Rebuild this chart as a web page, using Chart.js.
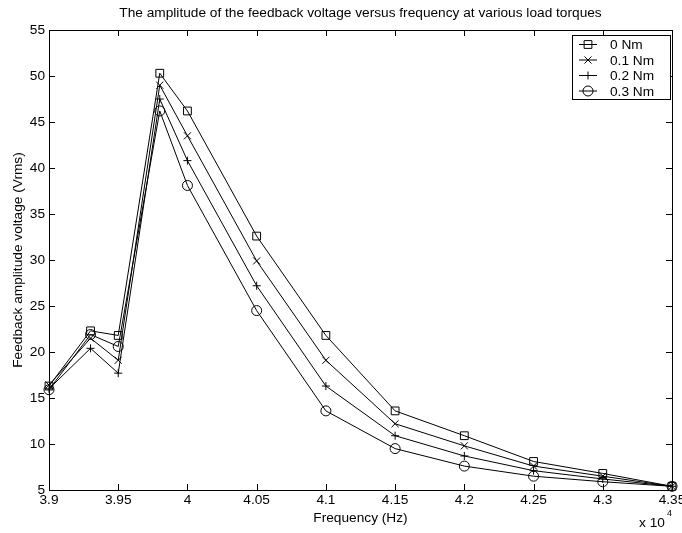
<!DOCTYPE html>
<html>
<head>
<meta charset="utf-8">
<script src="https://cdn.jsdelivr.net/npm/chart.js@4"></script>
<style>
  html, body { margin: 0; padding: 0; background: #fff; }
  #wrap { width: 682px; height: 533px; }
</style>
</head>
<body>
<div id="wrap"><canvas id="myChart"></canvas></div>
<script>
// frequencies in Hz
const freqs = [39000, 39300, 39500, 39800, 40000, 40500, 41000, 41500, 42000, 42500, 43000, 43500];
const labels0 = "0 Nm";
const labels1 = "0.1 Nm";
const labels2 = "0.2 Nm";
const labels3 = "0.3 Nm";
const volts0 = [16.3, 22.3, 21.8, 50.3, 46.2, 32.6, 21.8, 13.6, 10.9, 8.1, 6.8, 5.4];
const volts1 = [16.4, 21.5, 19.1, 49.0, 43.5, 29.9, 19.1, 12.2, 9.8, 7.6, 6.5, 5.4];
const volts2 = [16.0, 20.4, 17.7, 47.5, 40.8, 27.2, 16.3, 10.9, 8.7, 7.1, 6.2, 5.4];
const volts3 = [15.9, 21.9, 20.6, 46.2, 38.1, 24.5, 13.6, 9.5, 7.6, 6.5, 5.9, 5.4];
const xTicks = [39000, 39500, 40000, 40500, 41000, 41500, 42000, 42500, 43000, 43500];
const yTicks = [5, 10, 15, 20, 25, 30, 35, 40, 45, 50, 55];

const font = "Liberation Sans, Arial, sans-serif";
const fsize = 13.7;

function makeSet(label, values, style, radius) {
  return {
    label: label,
    data: values.map((v, i) => ({ x: freqs[i], y: v })),
    borderColor: "#000",
    borderWidth: 1,
    pointStyle: style,
    pointRadius: radius,
    pointBorderColor: "#000",
    pointBackgroundColor: "rgba(0,0,0,0)",
    pointBorderWidth: 1,
    tension: 0,
    clip: false,
  };
}

// inward ticks, frame, titles, legend, exponent
const decor = {
  id: "decor",
  afterDraw(chart) {
    const ctx = chart.ctx;
    const a = chart.chartArea;
    const xs = chart.scales.x;
    const ys = chart.scales.y;
    ctx.save();
    ctx.strokeStyle = "#000";
    ctx.lineWidth = 1;
    ctx.beginPath();
    xTicks.forEach((t) => {
      const px = Math.round(xs.getPixelForValue(t)) + 0.5;
      ctx.moveTo(px, a.bottom); ctx.lineTo(px, a.bottom - 6);
      ctx.moveTo(px, a.top); ctx.lineTo(px, a.top + 6);
    });
    yTicks.forEach((t) => {
      const py = Math.round(ys.getPixelForValue(t)) + 0.5;
      ctx.moveTo(a.left, py); ctx.lineTo(a.left + 6, py);
      ctx.moveTo(a.right, py); ctx.lineTo(a.right - 6, py);
    });
    ctx.stroke();
    ctx.strokeRect(Math.round(a.left) + 0.5, Math.round(a.top) + 0.5, Math.round(a.right - a.left), Math.round(a.bottom - a.top));

    ctx.fillStyle = "#000";
    ctx.font = fsize + "px " + font;
    ctx.textAlign = "center";
    ctx.textBaseline = "middle";
    ctx.fillText("The amplitude of the feedback voltage versus frequency at various load torques", (a.left + a.right) / 2, 13);
    ctx.fillText("Frequency (Hz)", (a.left + a.right) / 2, 518);

    ctx.save();
    ctx.translate(18, (a.top + a.bottom) / 2);
    ctx.rotate(-Math.PI / 2);
    ctx.fillText("Feedback amplitude voltage (Vrms)", 0, 0);
    ctx.restore();

    // exponent label
    ctx.textAlign = "left";
    ctx.fillText("x 10", 639, 523);
    ctx.font = "9px " + font;
    ctx.fillText("4", 667, 514);

    // legend box
    const bx = 572, by = 35, bw = 98, bh = 64;
    ctx.fillStyle = "#fff";
    ctx.fillRect(bx, by, bw, bh);
    ctx.strokeRect(bx + 0.5, by + 0.5, bw, bh);
    ctx.font = fsize + "px " + font;
    chart.data.datasets.forEach((ds, i) => {
      const ly = by + 9 + i * 15.5 + 0.5;
      ctx.beginPath();
      ctx.moveTo(bx + 7, ly); ctx.lineTo(bx + 25, ly);
      ctx.stroke();
      ctx.fillStyle = "rgba(0,0,0,0)";
      Chart.helpers.drawPoint(ctx, { pointStyle: ds.pointStyle, radius: ds.pointRadius, borderWidth: 1 }, bx + 16, ly);
      ctx.fillStyle = "#000";
      ctx.textAlign = "left";
      ctx.fillText(ds.label, bx + 38, ly + 1);
    });
    ctx.restore();
  },
};

const config = {
  type: "line",
  data: {
    datasets: [
      makeSet(labels0, volts0, "rect", 5.5),
      makeSet(labels1, volts1, "crossRot", 5),
      makeSet(labels2, volts2, "cross", 4),
      makeSet(labels3, volts3, "circle", 5),
    ],
  },
  options: {
    responsive: true,
    maintainAspectRatio: false,
    animation: false,
    layout: { padding: { top: 30, right: 0, left: 0, bottom: 0 } },
    plugins: { legend: { display: false }, title: { display: false }, tooltip: { enabled: false } },
    scales: {
      x: {
        type: "linear",
        min: 39000,
        max: 43500,
        afterFit: (s) => { s.height = 43; s.paddingLeft = 0; s.paddingRight = 10; },
        afterBuildTicks: (s) => { s.ticks = xTicks.map((v) => ({ value: v })); },
        grid: { display: false, drawTicks: false },
        border: { display: false },
        ticks: {
          color: "#000",
          padding: 2,
          maxRotation: 0,
          font: { family: font, size: fsize },
          callback: (v) => String(Math.round(v / 10) / 1000),
        },
      },
      y: {
        min: 5,
        max: 55,
        afterFit: (s) => { s.width = 49; s.paddingTop = 0; s.paddingBottom = 0; },
        afterBuildTicks: (s) => { s.ticks = yTicks.map((v) => ({ value: v })); },
        grid: { display: false, drawTicks: false },
        border: { display: false },
        ticks: { color: "#000", padding: 4, font: { family: font, size: fsize } },
      },
    },
  },
  plugins: [decor],
};

new Chart(document.getElementById("myChart"), config);
</script>
</body>
</html>
